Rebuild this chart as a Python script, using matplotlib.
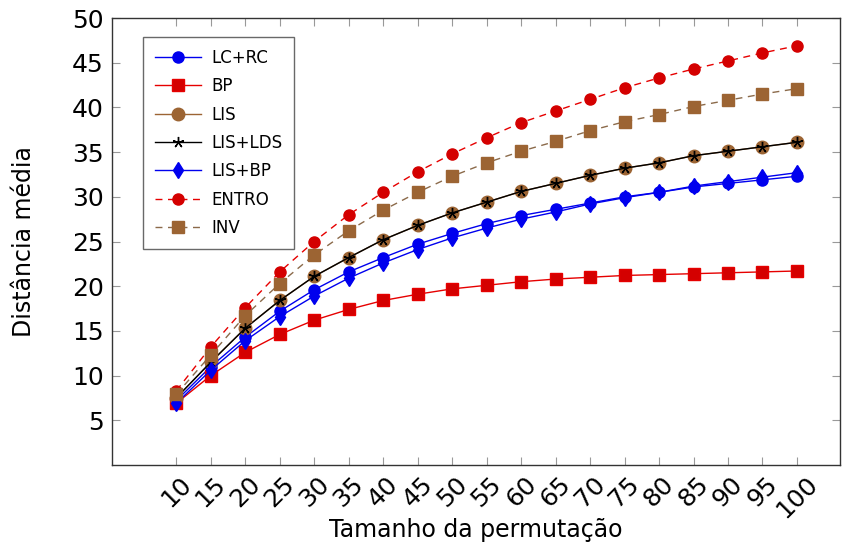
import matplotlib
matplotlib.use('Agg')
import matplotlib.pyplot as plt

plt.rcParams['font.family'] = ['DejaVu Sans']

# Permutation sizes
sizes = [10, 15, 20, 25, 30, 35, 40, 45, 50, 55, 60, 65, 70, 75, 80, 85, 90, 95, 100]

# Average distance per algorithm
lc_rc = [7.2, 11.0, 14.3, 17.2, 19.6, 21.6, 23.2, 24.7, 25.9, 27.0, 27.9, 28.6, 29.3, 30.0, 30.5, 31.1, 31.5, 31.9, 32.3]
bp = [6.9, 10.0, 12.6, 14.6, 16.2, 17.4, 18.4, 19.1, 19.7, 20.1, 20.5, 20.8, 21.0, 21.2, 21.3, 21.4, 21.5, 21.6, 21.7]
lis = [7.5, 11.5, 15.3, 18.4, 21.1, 23.2, 25.2, 26.8, 28.2, 29.4, 30.6, 31.5, 32.4, 33.2, 33.8, 34.6, 35.1, 35.6, 36.1]
lis_lds = [7.5, 11.5, 15.3, 18.4, 21.1, 23.2, 25.2, 26.8, 28.2, 29.4, 30.6, 31.5, 32.4, 33.2, 33.8, 34.6, 35.1, 35.6, 36.1]
lis_bp = [6.9, 10.6, 13.9, 16.6, 18.9, 20.9, 22.6, 24.1, 25.4, 26.5, 27.5, 28.3, 29.2, 29.9, 30.5, 31.2, 31.7, 32.2, 32.7]
entro = [8.3, 13.2, 17.6, 21.6, 25.0, 28.0, 30.5, 32.8, 34.8, 36.6, 38.3, 39.6, 40.9, 42.2, 43.3, 44.3, 45.2, 46.1, 46.9]
inv = [7.9, 12.3, 16.7, 20.3, 23.5, 26.2, 28.5, 30.5, 32.3, 33.8, 35.1, 36.2, 37.4, 38.4, 39.2, 40.1, 40.8, 41.5, 42.1]

red = '#e60000'
red_fill = '#d40000'
blue = '#0000ee'
brown = '#9c6433'
brown_line = '#8b6a4a'

fig = plt.figure(figsize=(8.56, 5.47), dpi=100)
ax = fig.add_axes([0.131, 0.150, 0.850, 0.817])

ax.plot(sizes, lc_rc, color=blue, lw=1, marker='o', ms=8, mfc=blue, mec=blue, label='LC+RC')
ax.plot(sizes, bp, color=red, lw=1, marker='s', ms=8, mfc=red_fill, mec=red, label='BP')
ax.plot(sizes, lis, color=brown, lw=1, marker='o', ms=9, mfc=brown, mec=brown, label='LIS')
ax.plot(sizes, lis_lds, color='black', lw=1, marker=(5, 2, 0), ms=8, mec='black', label='LIS+LDS')
ax.plot(sizes, lis_bp, color=blue, lw=1, marker='d', ms=8, mfc=blue, mec=blue, label='LIS+BP')
ax.plot(sizes, entro, color=red, lw=1, ls=(0, (5, 4)), marker='o', ms=8, mfc=red_fill, mec=red_fill, label='ENTRO')
ax.plot(sizes, inv, color=brown_line, lw=1, ls=(0, (5, 4)), marker='s', ms=8, mfc=brown, mec=brown, label='INV')

ax.set_xlim(0.7, 106.2)
ax.set_ylim(0, 50)
ax.set_xticks(sizes)
ax.set_xticklabels([str(s) for s in sizes], rotation=45, ha='center', va='top')
ax.set_yticks(range(5, 51, 5))
ax.tick_params(axis='both', direction='in', length=6, color='#999999', labelsize=18,
               top=True, right=True, pad=6)
ax.tick_params(axis='x', pad=5)
for s in ax.spines.values():
    s.set_color('#333333')
    s.set_linewidth(1)

ax.set_xlabel('Tamanho da permutação', fontsize=17, labelpad=-3)
ax.set_ylabel('Distância média', fontsize=17, labelpad=26)

leg = ax.legend(loc='upper left', bbox_to_anchor=(0.0426, 0.957), borderaxespad=0,
                fontsize=12, frameon=True, fancybox=False, edgecolor='#444444',
                handlelength=2.8, handletextpad=0.6, labelspacing=0.62, borderpad=0.7)
leg.get_frame().set_linewidth(1)

fig.savefig('out.png', dpi=100)
